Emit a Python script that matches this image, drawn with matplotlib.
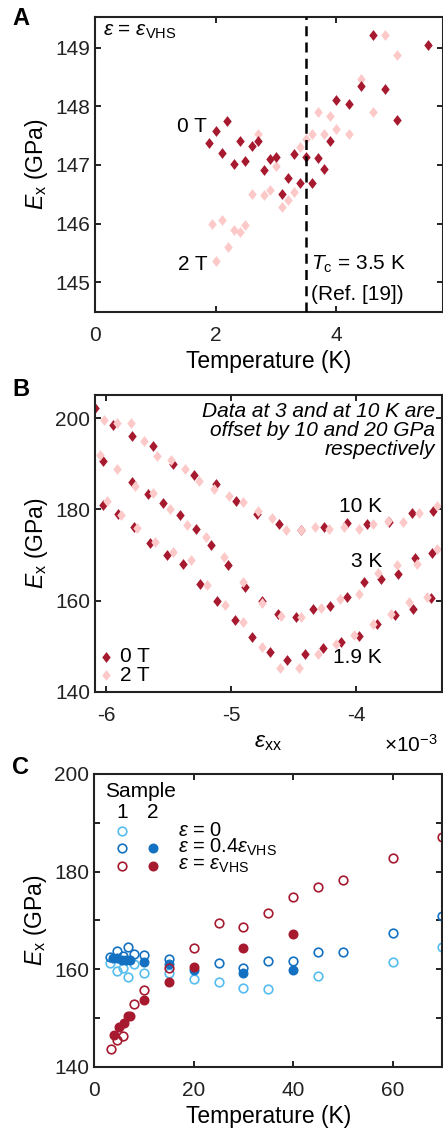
# Young's modulus E_x vs temperature and strain, three panels
import matplotlib
matplotlib.use('Agg')
import matplotlib.pyplot as plt

plt.rcParams['font.family'] = ['Liberation Sans', 'DejaVu Sans']
plt.rcParams['mathtext.fontset'] = 'custom'
plt.rcParams['mathtext.rm'] = 'Liberation Sans'
plt.rcParams['mathtext.it'] = 'Liberation Sans:italic'
plt.rcParams['mathtext.bf'] = 'Liberation Sans:bold'
plt.rcParams['font.size'] = 15

DARK = '#a6192e'
PINK = '#fcc8c8'
LBLUE = '#55bdf0'
BLUE = '#1471c2'

# Panel A: E_x at eps = eps_VHS vs temperature
temp_a_0T = [1.89, 2.00, 2.10, 2.19, 2.30, 2.40, 2.49, 2.60, 2.70, 2.80, 2.90, 3.00, 3.10, 3.20,
             3.30, 3.40, 3.50, 3.60, 3.70, 3.80, 3.90, 4.00, 4.20, 4.41, 4.61, 4.80, 5.01, 5.51]
ex_a_0T = [147.38, 147.58, 147.21, 147.74, 147.02, 147.40, 147.06, 147.32, 147.41, 146.91, 147.10,
           147.13, 146.50, 146.78, 147.18, 146.70, 147.13, 146.70, 147.12, 146.93, 147.41, 148.10,
           148.04, 148.34, 149.22, 148.29, 147.76, 149.05]
temp_a_2T = [1.94, 2.00, 2.10, 2.20, 2.30, 2.40, 2.49, 2.60, 2.70, 2.80, 2.90, 3.00, 3.10, 3.20,
             3.30, 3.40, 3.50, 3.60, 3.70, 3.80, 3.90, 4.00, 4.20, 4.41, 4.61, 4.80, 5.01]
ex_a_2T = [146.00, 145.37, 146.07, 145.61, 145.89, 145.86, 145.98, 146.50, 147.52, 146.48, 146.57,
           146.98, 146.29, 146.40, 146.54, 147.31, 147.44, 147.52, 147.90, 147.52, 147.83, 147.61,
           147.52, 148.47, 147.90, 149.22, 148.87]
tc = 3.5

# Panel B: E_x vs strain (units of 1e-3), 3 K and 10 K offset by 10 and 20 GPa
s_10K_0T = [-6.088, -5.947, -5.789, -5.627, -5.461, -5.293, -5.123, -4.957, -4.789, -4.613, -4.437,
            -4.256, -4.069, -3.915, -3.739, -3.555, -3.381]
ex_10K_0T = [202.2, 198.5, 196.1, 193.8, 189.9, 187.5, 185.5, 181.9, 179.0, 176.8, 175.5, 176.2,
             177.1, 176.8, 177.2, 179.1, 179.7]
s_10K_2T = [-6.016, -5.915, -5.803, -5.696, -5.595, -5.483, -5.368, -5.253, -5.136, -5.019, -4.901,
            -4.787, -4.675, -4.563, -4.443, -4.331, -4.213, -4.096, -3.976, -3.861, -3.741, -3.621,
            -3.493, -3.349]
ex_10K_2T = [199.6, 199.0, 199.0, 195.1, 191.6, 190.8, 188.8, 186.2, 184.5, 182.9, 181.7, 179.7,
             178.0, 175.5, 175.5, 176.2, 175.8, 176.2, 175.8, 176.9, 177.5, 177.3, 179.1, 180.7]
s_3K_0T = [-6.027, -5.792, -5.661, -5.541, -5.408, -5.283, -5.157, -5.021, -4.888, -4.755, -4.621,
           -4.483, -4.344, -4.211, -4.075, -3.933, -3.800, -3.667, -3.528, -3.395]
ex_3K_0T = [190.7, 186.1, 183.3, 181.5, 178.8, 175.8, 172.2, 167.9, 162.9, 159.9, 157.1, 156.3,
            158.2, 158.8, 160.7, 164.1, 164.7, 165.8, 169.4, 170.5]
s_3K_2T = [-6.048, -5.909, -5.768, -5.627, -5.488, -5.349, -5.203, -5.056, -4.907, -4.755, -4.600,
           -4.440, -4.280, -4.128, -3.976, -3.821, -3.675, -3.515, -3.355]
ex_3K_2T = [191.9, 188.8, 185.1, 183.7, 180.1, 176.6, 174.0, 169.6, 164.1, 159.5, 156.6, 156.4,
            158.4, 160.3, 161.5, 166.1, 167.8, 168.1, 171.2]
s_19K_0T = [-6.027, -5.901, -5.773, -5.648, -5.515, -5.381, -5.248, -5.109, -4.968, -4.829, -4.688,
            -4.549, -4.408, -4.267, -4.123, -3.976, -3.835, -3.688, -3.547, -3.403]
ex_19K_0T = [181.0, 179.0, 176.2, 172.7, 170.0, 168.0, 163.7, 159.9, 155.7, 152.0, 148.7, 146.9,
             148.2, 149.5, 150.9, 152.2, 154.8, 156.9, 158.2, 160.6]
s_19K_2T = [-5.995, -5.880, -5.749, -5.608, -5.467, -5.323, -5.189, -5.048, -4.901, -4.755, -4.608,
            -4.453, -4.307, -4.160, -4.013, -3.867, -3.720, -3.573, -3.435]
ex_19K_2T = [181.9, 178.8, 176.0, 172.9, 170.7, 168.9, 163.4, 159.0, 155.3, 149.7, 145.3, 145.3,
             148.2, 150.4, 152.4, 154.8, 157.1, 159.7, 160.7]

# Panel C: E_x vs temperature for two samples and three strains
t_zero_s1 = [3.2, 4.6, 5.7, 6.7, 7.9, 10, 15, 20, 25, 30, 35, 45, 60, 70]
ex_zero_s1 = [161.2, 159.6, 160.2, 158.4, 161.0, 159.3, 159.2, 158.1, 157.4, 156.2, 155.9, 158.6,
              161.4, 164.6]
t_04_s1 = [3.2, 4.6, 5.7, 6.7, 7.9, 10, 15, 25, 30, 35, 40, 45, 50, 60, 70]
ex_04_s1 = [162.6, 163.7, 162.7, 164.5, 163.2, 162.9, 162.2, 161.3, 160.3, 161.6, 161.6, 163.5,
            163.5, 167.4, 171.0]
t_04_s2 = [3.8, 4.6, 5.5, 6.4, 7.2, 10, 15, 20, 30, 40]
ex_04_s2 = [162.3, 162.3, 162.0, 161.9, 161.9, 161.5, 161.1, 159.9, 159.2, 159.8]
t_vhs_s1 = [3.3, 4.6, 5.7, 7.9, 10, 15, 20, 25, 30, 35, 40, 45, 50, 60, 70]
ex_vhs_s1 = [143.7, 145.6, 146.4, 152.8, 155.8, 160.2, 164.3, 169.5, 168.6, 171.6, 174.9, 176.8,
             178.2, 182.7, 187.1]
t_vhs_s2 = [4.0, 5.0, 6.0, 6.8, 7.2, 10, 15, 20, 30, 40]
ex_vhs_s2 = [146.6, 148.1, 149.0, 150.4, 150.4, 153.8, 157.4, 160.4, 164.4, 167.2]

diamond = [(0, 1), (0.78, 0), (0, -1), (-0.78, 0), (0, 1)]
ylab = r'$E_{\rm x}$ (GPa)'


def style(ax):
    for sp in ax.spines.values():
        sp.set_linewidth(1.5)
        sp.set_color('#222222')
    ax.tick_params(direction='in', top=True, right=True, length=4, width=1.4,
                   labelsize=15, colors='#222222')
    ax.tick_params(axis='x', pad=10)


fig = plt.figure(figsize=(4.43, 11.33), dpi=100)

# ---- A ----
ax = fig.add_axes([0.2144, 0.7249, 0.785, 0.2601])
ax.plot(temp_a_2T, ex_a_2T, ls='none', marker=diamond, ms=7.8, color=PINK, mec='none')
ax.plot(temp_a_0T, ex_a_0T, ls='none', marker=diamond, ms=7.8, color=DARK, mec='none')
ax.axvline(tc, color='k', lw=1.8, ls=(0, (4, 2.5)), zorder=3)
ax.set_xlim(0, 5.76)
ax.set_ylim(144.5, 149.52)
ax.set_xticks([0, 2, 4])
ax.set_yticks([145, 146, 147, 148, 149])
style(ax)
ax.set_xlabel('Temperature (K)', fontsize=16.5, labelpad=4)
ax.set_ylabel(ylab, fontsize=16.5)
ax.text(0.023, 0.95, r'$\varepsilon$ = $\varepsilon_{\rm VHS}$', transform=ax.transAxes,
        fontsize=15, ha='left', va='center')
ax.text(1.86, 147.66, '0 T', ha='right', va='center', fontsize=15)
ax.text(1.86, 145.31, '2 T', ha='right', va='center', fontsize=15)
ax.text(3.57, 145.31, r'$T_{\rm c}$ = 3.5 K', ha='left', va='center', fontsize=15)
ax.text(3.57, 144.80, '(Ref. [19])', ha='left', va='center', fontsize=15)
fig.text(0.027, 0.984, 'A', fontsize=17, fontweight='bold', ha='left', va='center')

# ---- B ----
ax = fig.add_axes([0.2144, 0.3895, 0.7826, 0.2619])
for s, e in [(s_10K_0T, ex_10K_0T), (s_3K_0T, ex_3K_0T), (s_19K_0T, ex_19K_0T)]:
    ax.plot(s, e, ls='none', marker=diamond, ms=7.8, color=DARK, mec='none')
for s, e in [(s_10K_2T, ex_10K_2T), (s_3K_2T, ex_3K_2T), (s_19K_2T, ex_19K_2T)]:
    ax.plot(s, e, ls='none', marker=diamond, ms=7.8, color=PINK, mec='none')
ax.set_xlim(-6.088, -3.314)
ax.set_ylim(140, 205.1)
ax.set_xticks([-6, -5, -4])
ax.set_xticklabels(['-6', '-5', '-4'])
ax.set_yticks([140, 160, 180, 200])
style(ax)
ax.set_xlabel(r'$\varepsilon_{\rm xx}$', fontsize=16.5, labelpad=4)
ax.set_ylabel(ylab, fontsize=16.5)
ax.text(0.981, 0.975, 'Data at 3 and at 10 K are\noffset by 10 and 20 GPa\nrespectively',
        transform=ax.transAxes, ha='right', va='top', fontsize=15, style='italic',
        linespacing=1.0, multialignment='right')
ax.text(-3.79, 180.7, '10 K', ha='right', va='center', fontsize=15)
ax.text(-3.79, 168.6, '3 K', ha='right', va='center', fontsize=15)
ax.text(-3.79, 147.5, '1.9 K', ha='right', va='center', fontsize=15)
ax.plot([0.032], [0.118], transform=ax.transAxes, ls='none', marker=diamond, ms=7.8,
        color=DARK, mec='none')
ax.plot([0.032], [0.056], transform=ax.transAxes, ls='none', marker=diamond, ms=7.8,
        color=PINK, mec='none')
ax.text(0.072, 0.118, '0 T', transform=ax.transAxes, ha='left', va='center', fontsize=15)
ax.text(0.072, 0.056, '2 T', transform=ax.transAxes, ha='left', va='center', fontsize=15)
fig.text(0.987, 1 - 752 / 1133, r'$\times10^{-3}$', ha='right', va='baseline', fontsize=15)
fig.text(0.027, 1 - 390 / 1133, 'B', fontsize=17, fontweight='bold', ha='left', va='center')

# ---- C ----
ax = fig.add_axes([0.2129, 0.0583, 0.7856, 0.2586])
ms = 6.2
ax.plot(t_zero_s1, ex_zero_s1, ls='none', marker='o', ms=ms, mfc='none', mec=LBLUE, mew=1.2)
ax.plot(t_04_s1, ex_04_s1, ls='none', marker='o', ms=ms, mfc='none', mec=BLUE, mew=1.2)
ax.plot(t_04_s2, ex_04_s2, ls='none', marker='o', ms=ms, color=BLUE, mec=BLUE)
ax.plot(t_vhs_s1, ex_vhs_s1, ls='none', marker='o', ms=ms, mfc='none', mec=DARK, mew=1.2)
ax.plot(t_vhs_s2, ex_vhs_s2, ls='none', marker='o', ms=ms, color=DARK, mec=DARK)
ax.set_xlim(0, 70)
ax.set_ylim(140, 200)
ax.set_xticks([0, 20, 40, 60])
ax.set_yticks([140, 150, 160, 170, 180, 190, 200])
ax.set_yticklabels(['140', '', '160', '', '180', '', '200'])
style(ax)
ax.set_xlabel('Temperature (K)', fontsize=16.5, labelpad=4)
ax.set_ylabel(ylab, fontsize=16.5)
tr = ax.transAxes
ax.text(0.031, 0.939, 'Sample', transform=tr, ha='left', va='center', fontsize=15)
ax.text(0.080, 0.870, '1', transform=tr, ha='center', va='center', fontsize=15)
ax.text(0.169, 0.870, '2', transform=tr, ha='center', va='center', fontsize=15)
ax.plot([0.080], [0.805], transform=tr, ls='none', marker='o', ms=ms, mfc='none', mec=LBLUE, mew=1.2)
ax.plot([0.080], [0.747], transform=tr, ls='none', marker='o', ms=ms, mfc='none', mec=BLUE, mew=1.2)
ax.plot([0.169], [0.747], transform=tr, ls='none', marker='o', ms=ms, color=BLUE)
ax.plot([0.080], [0.686], transform=tr, ls='none', marker='o', ms=ms, mfc='none', mec=DARK, mew=1.2)
ax.plot([0.169], [0.686], transform=tr, ls='none', marker='o', ms=ms, color=DARK)
ax.text(0.24, 0.808, r'$\varepsilon$ = 0', transform=tr, ha='left', va='center', fontsize=14.5)
ax.text(0.24, 0.750, r'$\varepsilon$ = 0.4$\varepsilon_{\rm VHS}$', transform=tr, ha='left',
        va='center', fontsize=14.5)
ax.text(0.24, 0.689, r'$\varepsilon$ = $\varepsilon_{\rm VHS}$', transform=tr, ha='left',
        va='center', fontsize=14.5)
fig.text(0.027, 1 - 768 / 1133, 'C', fontsize=17, fontweight='bold', ha='left', va='center')

fig.savefig('out.png', dpi=100)
